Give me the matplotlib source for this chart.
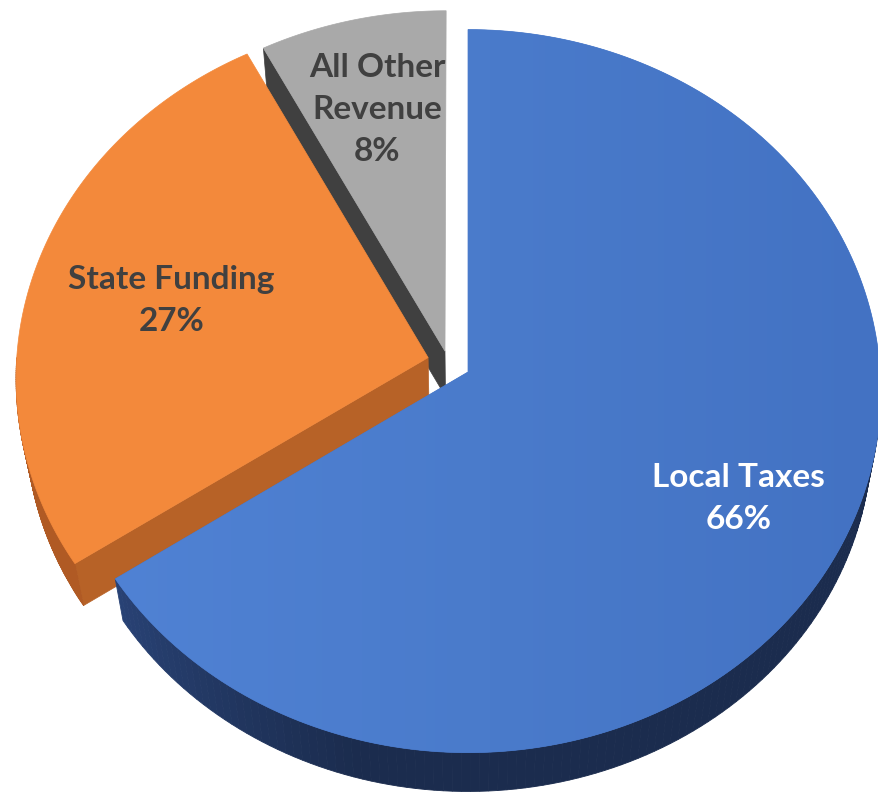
import numpy as np
import matplotlib.pyplot as plt
from matplotlib.patches import Polygon
from matplotlib.colors import LinearSegmentedColormap, to_rgb

# data
categories = ["Local Taxes", "State Funding", "All Other\nRevenue"]
values = [65.6, 26.7, 7.7]
top_colors = ["#4878c9", "#f3893b", "#a9a9a9"]
side_colors = ["#1b2c4e", "#b05a24", "#404040"]
label_colors = ["white", "#404040", "#404040"]
# explode offsets in disk units (u = right, v = back)
explode = [(0.0, 0.0), (-0.097, 0.04), (-0.056, 0.058)]
label_r = [0.73, 0.65, 0.72]

# 3d view
W, H_PX = 879, 794
cx, cy = 468, 372
alpha = np.radians(61)
c, s = np.cos(alpha), np.sin(alpha)
D = 9.17
F = 3780
depth_h = 0.23


def proj(u, v, h=0.0):
    d = D + v * c - h * s
    x = cx + F * u / d
    y = cy - F * (h * c + v * s) / d
    return x, y


fig = plt.figure(figsize=(W / 100, H_PX / 100), dpi=100)
ax = fig.add_axes([0, 0, 1, 1])
ax.set_xlim(0, W)
ax.set_ylim(H_PX, 0)
ax.axis('off')

total = sum(values)
bounds = np.concatenate([[0], np.cumsum(values) / total * 360])

# draw back to front: gray, orange, blue
order = [2, 1, 0]
z = 1
for i in order:
    t0, t1 = bounds[i], bounds[i + 1]
    eu, ev = explode[i]

    # radial walls facing the viewer
    for phi, first in [(t0, True), (t1, False)]:
        sp = np.sin(np.radians(phi))
        visible = sp < -1e-6 if first else sp > 1e-6
        if not visible:
            continue
        pu, pv = eu + np.sin(np.radians(phi)), ev + np.cos(np.radians(phi))
        pts = [proj(eu, ev, 0), proj(pu, pv, 0), proj(pu, pv, -depth_h), proj(eu, ev, -depth_h)]
        col = "#b76227" if i == 1 else side_colors[i]
        ax.add_patch(Polygon(pts, closed=True, fc=col, ec=col, lw=0.5, zorder=z))
    z += 1

    # outer rim wall (front half only)
    a0, a1 = max(t0, 90), min(t1, 270)
    if a1 > a0:
        th = np.linspace(a0, a1, 120)
        base = np.array(to_rgb(side_colors[i]))
        for k in range(len(th) - 1):
            ta, tb = np.radians(th[k]), np.radians(th[k + 1])
            col = base
            if i == 0:
                # lighter towards the left silhouette
                tm = np.degrees((ta + tb) / 2)
                light = np.clip((tm - 195) / 45, 0, 1) * 0.55
                col = np.clip(base * (1 + light), 0, 1)
            pts = [proj(eu + np.sin(ta), ev + np.cos(ta), 0),
                   proj(eu + np.sin(tb), ev + np.cos(tb), 0),
                   proj(eu + np.sin(tb), ev + np.cos(tb), -depth_h),
                   proj(eu + np.sin(ta), ev + np.cos(ta), -depth_h)]
            ax.add_patch(Polygon(pts, closed=True, fc=col, ec=col, lw=0.6, zorder=z))
    z += 1

    # top face
    th = np.radians(np.linspace(t0, t1, 200))
    pts = [proj(eu, ev, 0)] + [proj(eu + np.sin(t), ev + np.cos(t), 0) for t in th]
    face = Polygon(pts, closed=True, fc=top_colors[i], ec=top_colors[i], lw=0.5, zorder=z)
    ax.add_patch(face)
    if i == 0:
        cmap = LinearSegmentedColormap.from_list("bl", ["#5082d4", "#4a7bcb", "#4372c3"])
        grad = np.linspace(0, 1, 256).reshape(1, -1)
        im = ax.imshow(grad, cmap=cmap, extent=(100, 880, 794, 0), aspect='auto', zorder=z + 0.5)
        im.set_clip_path(face)
    z += 1

# labels
for i in range(len(values)):
    mid = np.radians((bounds[i] + bounds[i + 1]) / 2)
    eu, ev = explode[i]
    r = label_r[i]
    lx, ly = proj(eu + r * np.sin(mid), ev + r * np.cos(mid), 0)
    txt = f"{categories[i]}\n{round(values[i])}%"
    ax.text(lx, ly, txt, ha='center', va='center', color=label_colors[i],
            fontsize=24, fontweight='bold', family=['Lato', 'DejaVu Sans'],
            linespacing=1.55, zorder=50)

fig.savefig('out.png', dpi=100)
